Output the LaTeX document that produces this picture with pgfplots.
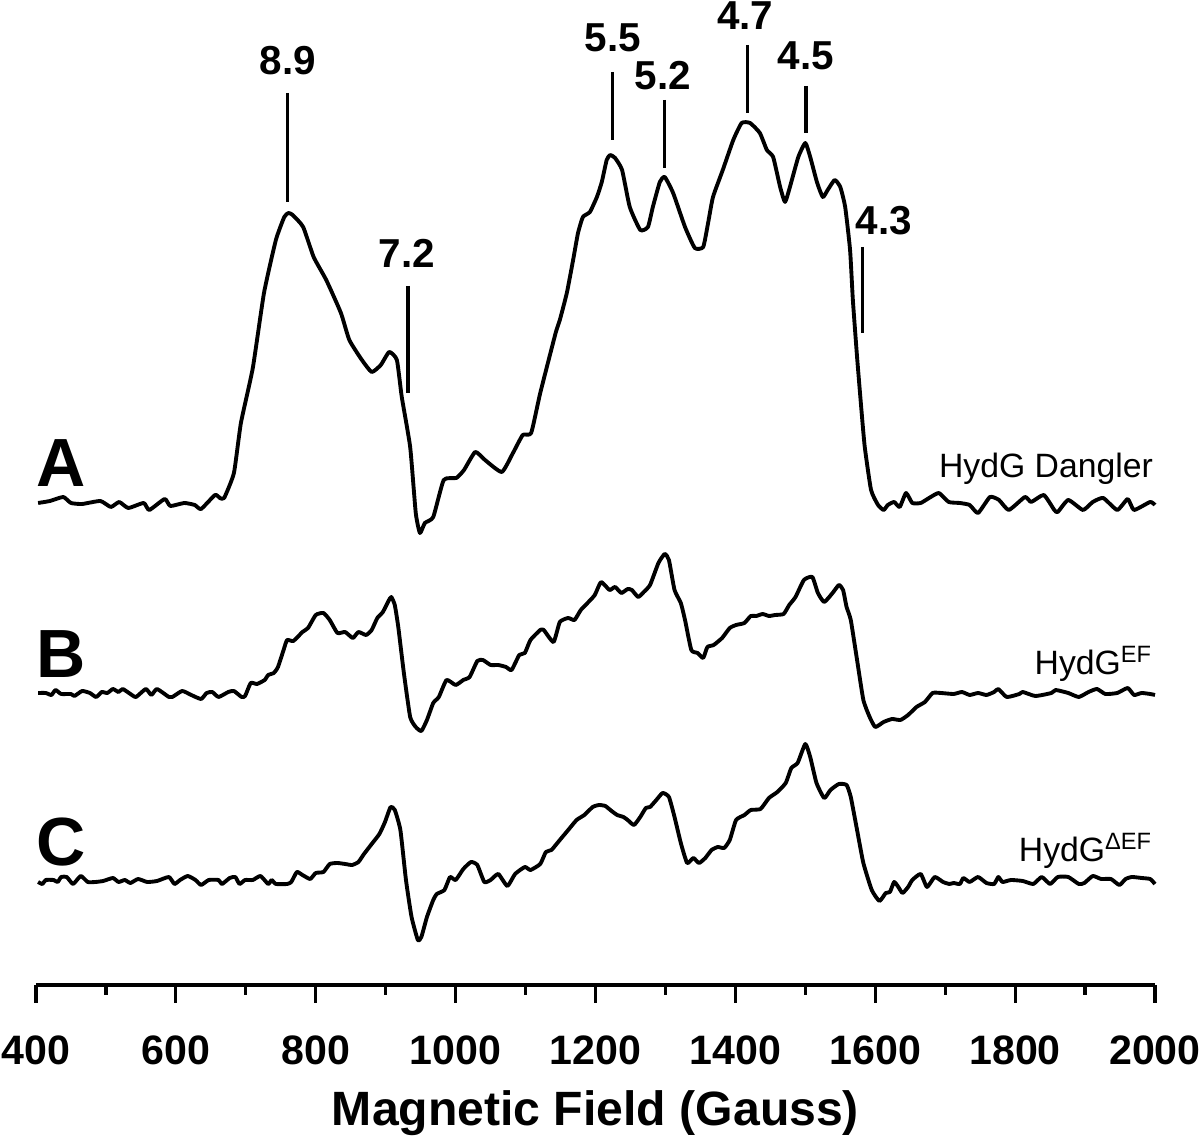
\documentclass[border=0pt]{standalone}
\usepackage{pgfplots}
\pgfplotsset{compat=1.18}
\usepackage{pgfplotstable}
\usepackage{fontspec}
\setmainfont{Liberation Sans}

% field (G) vs. derivative signal (arb.), each relative to its own baseline
\pgfplotstableread{
G I
403 0
420 2
439 6
450 0
466 -1
492 2
507 -4
519 1
532 -5
554 0
562 -7
584 4
592 -3
612 0
627 -2
636 -6
656 8
663 5
669 5
683 30
693 80
710 135
726 210
743 263
755 286
761 290
767 288
782 276
797 246
815 223
836 190
848 163
866 143
880 131
893 138
905 151
916 143
923 106
935 56
943 -10
949 -30
956 -20
968 -14
983 23
1001 25
1012 33
1028 51
1042 43
1066 31
1082 50
1096 68
1108 70
1121 110
1143 170
1149 183
1159 210
1168 243
1175 270
1182 286
1192 291
1202 306
1209 321
1216 343
1221 348
1228 345
1238 333
1249 296
1264 273
1275 276
1282 296
1292 321
1299 326
1311 310
1328 276
1342 255
1354 256
1361 280
1368 306
1382 333
1397 363
1409 380
1421 380
1435 370
1445 353
1454 346
1464 316
1471 301
1478 316
1490 346
1500 360
1507 346
1517 320
1525 306
1532 313
1542 323
1550 316
1557 296
1564 253
1568 203
1574 146
1580 95
1585 56
1594 13
1604 -2
1612 -7
1618 -2
1627 1
1635 -4
1644 10
1653 0
1665 0
1677 5
1691 10
1705 1
1721 0
1735 -2
1747 -10
1764 6
1777 3
1791 -7
1814 6
1823 1
1841 8
1856 -7
1861 -9
1876 3
1897 -7
1911 1
1926 5
1946 -7
1961 4
1970 -7
1993 1
2000 -2
}\dangler

\pgfplotstableread{
G I
403 0
414 0
422 -2
428 3
436 -1
450 -1
455 -3
466 2
477 0
486 -4
494 1
502 0
510 4
518 1
524 4
535 -1
543 -4
557 4
565 -2
573 4
590 -4
595 -4
609 2
622 -2
636 -6
644 0
652 1
661 -4
675 1
683 2
694 -4
699 -3
707 10
716 9
727 13
732 18
740 20
746 26
754 43
759 53
768 52
781 61
789 65
800 78
811 80
820 73
831 60
842 61
853 55
861 61
872 58
880 63
888 75
896 81
904 92
908 96
913 88
918 66
926 20
935 -24
943 -34
951 -38
959 -27
968 -10
976 -4
987 13
1000 8
1011 13
1020 16
1031 32
1039 33
1050 28
1061 28
1072 26
1080 23
1091 38
1099 40
1107 53
1121 63
1126 63
1140 51
1149 71
1161 75
1170 73
1179 83
1190 91
1199 98
1208 111
1220 103
1228 106
1237 100
1246 104
1252 103
1261 96
1269 101
1278 108
1290 130
1299 139
1305 133
1313 103
1322 90
1328 73
1337 43
1346 40
1354 35
1360 46
1369 48
1381 55
1392 65
1401 68
1413 70
1422 77
1430 77
1439 79
1448 77
1457 78
1469 79
1477 88
1486 96
1498 113
1510 116
1518 100
1527 91
1539 100
1548 108
1554 103
1559 86
1565 73
1574 33
1583 -7
1592 -24
1600 -34
1612 -29
1624 -26
1636 -27
1647 -22
1659 -14
1671 -9
1682 0
1694 0
1712 -1
1724 1
1735 -2
1747 0
1759 -2
1770 1
1776 4
1788 -4
1806 -1
1811 1
1829 -3
1852 0
1858 3
1876 0
1891 -4
1905 1
1917 4
1929 -1
1946 0
1961 5
1970 -2
1981 0
1993 -1
2000 -2
}\efdata

\pgfplotstableread{
G I
403 0
409 -2
414 2
425 2
431 0
436 5
444 5
453 -2
464 6
474 0
485 0
496 1
510 4
518 0
527 2
535 -1
546 3
559 0
573 1
590 5
598 -2
606 2
617 6
628 2
636 -3
647 2
661 2
666 -2
677 4
685 5
691 -2
699 2
710 2
721 6
732 -2
737 2
743 -2
759 -2
765 0
773 10
781 7
792 3
800 9
811 10
820 18
831 19
842 18
852 17
861 20
869 28
880 38
891 48
899 60
907 75
913 72
921 52
929 2
937 -35
946 -58
951 -55
959 -35
968 -18
973 -12
984 -8
992 5
1000 2
1011 13
1022 20
1031 17
1041 0
1050 2
1061 8
1074 -4
1085 8
1099 15
1107 12
1121 18
1129 30
1137 32
1149 42
1161 52
1173 62
1184 67
1196 75
1205 77
1214 76
1223 71
1231 67
1240 65
1246 62
1255 57
1264 65
1272 74
1278 75
1287 82
1296 89
1305 85
1313 65
1322 39
1331 19
1340 24
1348 19
1357 24
1366 32
1375 35
1384 34
1392 42
1401 62
1413 67
1422 72
1436 73
1448 84
1460 90
1472 99
1480 114
1489 119
1500 138
1507 125
1516 99
1527 84
1536 92
1548 98
1559 97
1565 85
1574 52
1583 19
1595 -8
1606 -19
1615 -11
1621 -10
1627 0
1633 -5
1639 -11
1647 -5
1653 2
1665 8
1674 -5
1685 5
1697 0
1706 -2
1712 -1
1721 -2
1726 4
1735 0
1747 5
1759 -1
1770 -2
1776 5
1782 0
1794 2
1811 1
1826 -2
1838 5
1850 -2
1861 5
1876 5
1891 -2
1899 -1
1911 6
1923 3
1937 3
1949 -3
1958 3
1967 5
1981 4
1993 3
2000 -2
}\deltaef

\begin{document}
\begin{tikzpicture}
\begin{axis}[
    scale only axis,
    width=11.19cm, height=9.85cm,
    at={(0,0)}, anchor=south west,
    xmin=400, xmax=2000, ymin=0, ymax=985,
    axis x line=bottom, axis y line=none,
    x axis line style={-, line width=1.1pt},
    xtick={400,600,...,2000}, minor x tick num=1, ytick=\empty,
    tick align=outside,
    major tick length=0.18cm, minor tick length=0.1cm,
    every tick/.style={black, line width=0.9pt},
    /pgf/number format/1000 sep={},
    /pgf/number format/assume math mode=true,
    xticklabel style={font=\fontsize{11.7}{13}\selectfont\bfseries, yshift=-0.2cm},
    xlabel={Magnetic Field (Gauss)},
    xlabel style={font=\fontsize{13.7}{15}\selectfont\bfseries,
        at={(axis description cs:0.5,0)}, anchor=base, yshift=-1.41cm},
    clip=false,
    every axis plot/.append style={black, line width=1.1pt, line join=round},
]
\addplot[smooth, tension=0.3] table[x=G, y expr=\thisrow{I}+482] {\dangler};
\addplot[smooth, tension=0.3] table[x=G, y expr=\thisrow{I}+292] {\efdata};
\addplot[smooth, tension=0.3] table[x=G, y expr=\thisrow{I}+103] {\deltaef};

% trace labels
\node[anchor=base west, font=\fontsize{19.4}{21}\selectfont\bfseries, inner sep=0pt] at (axis cs:400,498) {A};
\node[anchor=base west, font=\fontsize{19.4}{21}\selectfont\bfseries, inner sep=0pt] at (axis cs:400,307) {B};
\node[anchor=base west, font=\fontsize{19.4}{21}\selectfont\bfseries, inner sep=0pt] at (axis cs:400,119) {C};
\node[anchor=base east, font=\fontsize{9.6}{11}\selectfont, inner sep=0pt] at (axis cs:1998,507) {HydG Dangler};
\node[anchor=base east, font=\fontsize{9.6}{11}\selectfont, inner sep=0pt] at (axis cs:1998,310) {HydG\textsuperscript{EF}};
\node[anchor=base east, font=\fontsize{9.6}{11}\selectfont, inner sep=0pt] at (axis cs:1998,123) {HydG\textsuperscript{ΔEF}};

% g-value markers
\begin{scope}[line width=0.9pt]
\draw (axis cs:760,892) -- (axis cs:760,783);
\draw (axis cs:932,699) -- (axis cs:932,592);
\draw (axis cs:1224,913) -- (axis cs:1224,845);
\draw (axis cs:1299,885) -- (axis cs:1299,817);
\draw (axis cs:1417,940) -- (axis cs:1417,872);
\draw (axis cs:1501,899) -- (axis cs:1501,852);
\draw (axis cs:1582,738) -- (axis cs:1582,652);
\end{scope}
\begin{scope}[every node/.style={anchor=base, inner sep=0pt, font=\fontsize{11.5}{13}\selectfont\bfseries}]
\node at (axis cs:760,910) {8.9};
\node at (axis cs:930,717) {7.2};
\node at (axis cs:1225,933) {5.5};
\node at (axis cs:1296,895) {5.2};
\node at (axis cs:1414,955) {4.7};
\node at (axis cs:1501,915) {4.5};
\node at (axis cs:1612,750) {4.3};
\end{scope}
\end{axis}
\pgfresetboundingbox
\path[use as bounding box] (-0.36,-1.55) rectangle (11.64,9.85);
\end{tikzpicture}
\end{document}
